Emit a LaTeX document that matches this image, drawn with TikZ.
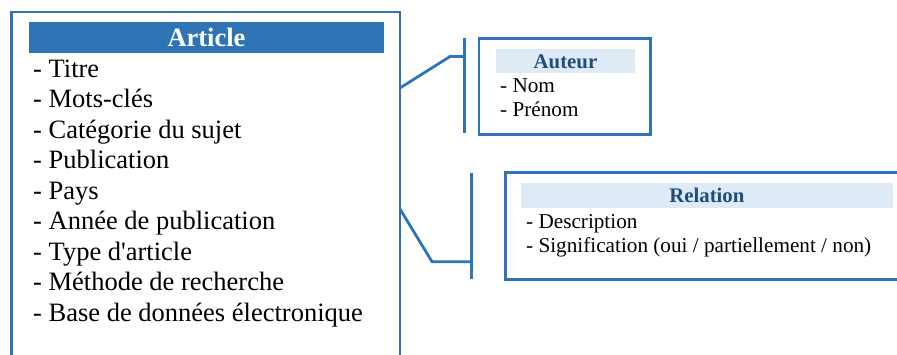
\documentclass[tikz,border=0pt]{standalone}
\usepackage{fontspec}
\setmainfont{Liberation Serif}
\definecolor{boxblue}{HTML}{2E75B6}
\definecolor{headblue}{HTML}{2E74B5}
\definecolor{paleblue}{HTML}{DEEAF6}
\definecolor{titleblue}{HTML}{1F4E79}
\tikzset{
  frame/.style={draw=boxblue, line width=2.8pt, inner sep=0pt, outer sep=0pt, anchor=north west},
  link/.style={draw=boxblue, line width=2.8pt},
  darkhead/.style={fill=headblue, text=white, inner sep=0pt, font=\fontsize{26.5}{30}\selectfont\bfseries},
  palehead/.style={fill=paleblue, text=titleblue, inner sep=0pt, font=\fontsize{20.8}{24}\selectfont\bfseries},
  bigitem/.style={anchor=base west, inner sep=0pt, font=\fontsize{26.5}{30.5}\selectfont},
  smallitem/.style={anchor=base west, inner sep=0pt, font=\fontsize{21.2}{24}\selectfont}
}
\begin{document}
\begin{tikzpicture}[x=1pt, y=-1pt]
  \useasboundingbox (0,0) rectangle (897,354);
  \clip (0,0) rectangle (897,354);
  % === Article ===
  \node[frame, minimum width=388.5pt, minimum height=400pt] (article) at (11.5,12) {};
  \node[darkhead, minimum width=355pt, minimum height=30.7pt] (arthead) at (206.5,37.4) {Article};
  \foreach \txt [count=\i from 0] in {Titre, Mots-clés, Catégorie du sujet, Publication, Pays,
      Année de publication, Type d\textquotesingle article, Méthode de recherche, Base de données électronique}
    \node[bigitem] (art-\i) at (33,77.3+30.5*\i) {- \txt};
  % === Auteur ===
  \node[frame, minimum width=171.5pt, minimum height=96pt] (auteur) at (479,38.5) {};
  \node[palehead, minimum width=139pt, minimum height=24pt] (authead) at (565.5,61.3) {Auteur};
  \node[smallitem] (aut-0) at (500,92.7) {- Nom};
  \node[smallitem] (aut-1) at (500,116.7) {- Prénom};
  % === Relation ===
  \node[frame, minimum width=420pt, minimum height=106.7pt] (relation) at (505.3,172.8) {};
  \node[palehead, minimum width=371.7pt, minimum height=24.4pt] (relhead) at (706.9,195.5) {Relation};
  \node[smallitem] (rel-0) at (526,228.3) {- Description};
  \node[smallitem] (rel-1) at (526,252.7) {- Signification (oui / partiellement / non)};
  % === Links ===
  \coordinate (art-a) at (400,88);
  \coordinate (aut-knee) at (450,56.5);
  \coordinate (autbar-top) at (464.5,38);
  \coordinate (autbar-bot) at (464.5,133.3);
  \draw[link] (autbar-top) -- (autbar-bot);
  \draw[link] (art-a) -- (aut-knee) -- (aut-knee -| autbar-top);
  \coordinate (art-r) at (400,209);
  \coordinate (rel-knee) at (432,261.7);
  \coordinate (relbar-top) at (471.2,173.3);
  \coordinate (relbar-bot) at (471.2,279);
  \draw[link] (relbar-top) -- (relbar-bot);
  \draw[link] (art-r) -- (rel-knee) -- (rel-knee -| relbar-top);
\end{tikzpicture}
\end{document}
